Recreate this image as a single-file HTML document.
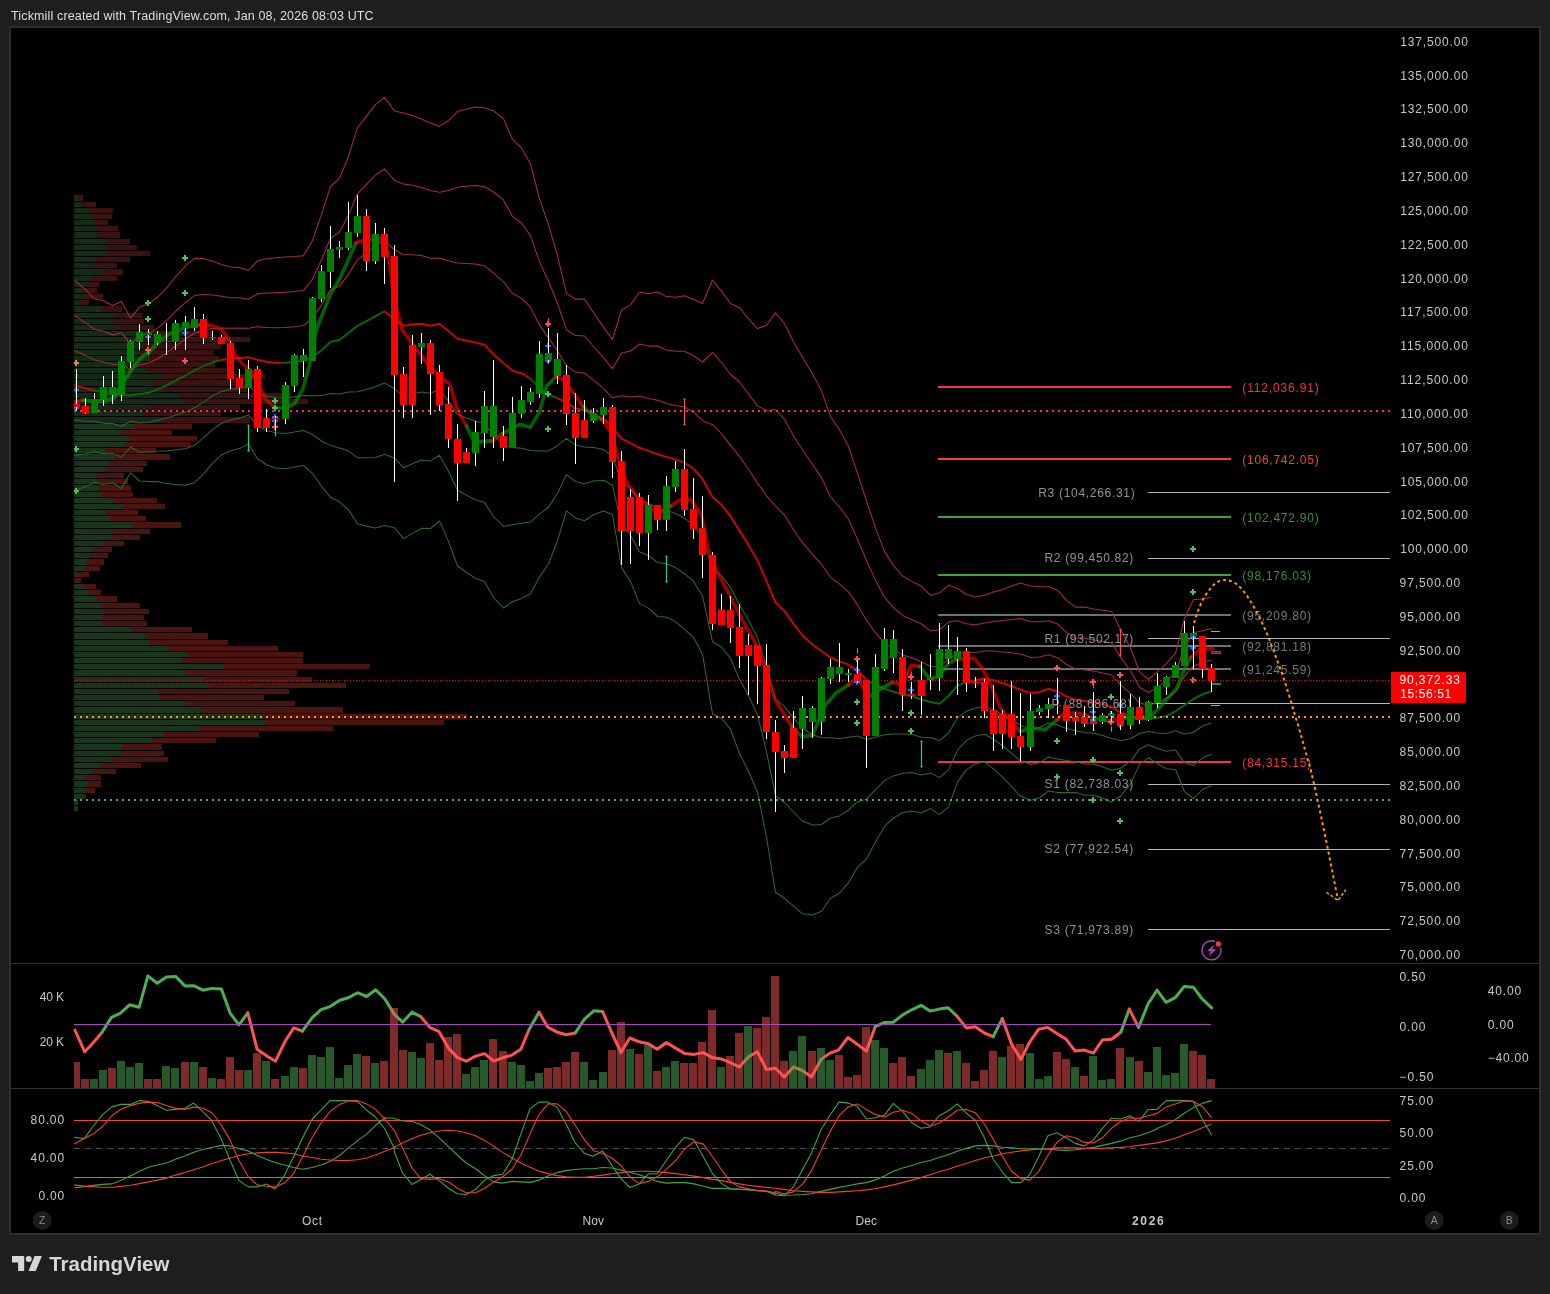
<!DOCTYPE html>
<html lang="en"><head><meta charset="utf-8"><title>Tickmill chart - TradingView</title>
<style>
html,body{margin:0;padding:0;background:#1e1e1e;}
body{width:1550px;height:1294px;position:relative;overflow:hidden;font-family:'Liberation Sans', Arial, sans-serif;}
#hdr{position:absolute;left:10.5px;top:9px;font-size:12.5px;line-height:14px;color:#dedede;white-space:nowrap;letter-spacing:0.15px;will-change:transform;}
#box{position:absolute;left:9px;top:26px;width:1528px;height:1205px;border:2px solid #2e2e2e;background:#000;}
#chart{position:absolute;left:0;top:0;}
#logo{position:absolute;left:0;top:1245px;}
svg text{font-family:'Liberation Sans', Arial, sans-serif;}
</style></head><body>
<div id="hdr">Tickmill created with TradingView.com, Jan 08, 2026 08:03 UTC</div>
<div id="box"></div>
<svg id="chart" style="will-change:transform" width="1550" height="1294" viewBox="0 0 1550 1294">
<defs><clipPath id="plot"><rect x="74" y="28" width="1316" height="935"/></clipPath></defs>
<g shape-rendering="crispEdges">
<rect x="74" y="195" width="3" height="6" fill="#142b17"/>
<rect x="77" y="195" width="6" height="6" fill="#3b1210"/>
<rect x="74" y="202" width="8" height="5" fill="#142b17"/>
<rect x="82" y="202" width="14" height="5" fill="#3b1210"/>
<rect x="74" y="208" width="15" height="5" fill="#142b17"/>
<rect x="89" y="208" width="24" height="5" fill="#3b1210"/>
<rect x="74" y="214" width="20" height="5" fill="#142b17"/>
<rect x="94" y="214" width="18" height="5" fill="#3b1210"/>
<rect x="74" y="220" width="21" height="5" fill="#142b17"/>
<rect x="95" y="220" width="13" height="5" fill="#3b1210"/>
<rect x="74" y="226" width="22" height="5" fill="#142b17"/>
<rect x="96" y="226" width="22" height="5" fill="#3b1210"/>
<rect x="74" y="232" width="23" height="6" fill="#142b17"/>
<rect x="97" y="232" width="23" height="6" fill="#3b1210"/>
<rect x="74" y="239" width="32" height="5" fill="#142b17"/>
<rect x="106" y="239" width="24" height="5" fill="#3b1210"/>
<rect x="74" y="245" width="31" height="5" fill="#142b17"/>
<rect x="105" y="245" width="32" height="5" fill="#3b1210"/>
<rect x="74" y="251" width="33" height="5" fill="#142b17"/>
<rect x="107" y="251" width="43" height="5" fill="#3b1210"/>
<rect x="74" y="257" width="21" height="5" fill="#142b17"/>
<rect x="95" y="257" width="35" height="5" fill="#3b1210"/>
<rect x="74" y="263" width="20" height="5" fill="#142b17"/>
<rect x="94" y="263" width="23" height="5" fill="#3b1210"/>
<rect x="74" y="269" width="29" height="6" fill="#142b17"/>
<rect x="103" y="269" width="20" height="6" fill="#3b1210"/>
<rect x="74" y="276" width="18" height="5" fill="#142b17"/>
<rect x="92" y="276" width="25" height="5" fill="#3b1210"/>
<rect x="74" y="282" width="14" height="5" fill="#142b17"/>
<rect x="88" y="282" width="11" height="5" fill="#3b1210"/>
<rect x="74" y="288" width="8" height="5" fill="#142b17"/>
<rect x="82" y="288" width="15" height="5" fill="#3b1210"/>
<rect x="74" y="294" width="12" height="5" fill="#142b17"/>
<rect x="86" y="294" width="17" height="5" fill="#3b1210"/>
<rect x="74" y="300" width="6" height="5" fill="#142b17"/>
<rect x="80" y="300" width="9" height="5" fill="#3b1210"/>
<rect x="74" y="306" width="27" height="6" fill="#142b17"/>
<rect x="101" y="306" width="21" height="6" fill="#3b1210"/>
<rect x="74" y="313" width="40" height="5" fill="#142b17"/>
<rect x="114" y="313" width="29" height="5" fill="#3b1210"/>
<rect x="74" y="319" width="38" height="5" fill="#142b17"/>
<rect x="112" y="319" width="32" height="5" fill="#3b1210"/>
<rect x="74" y="325" width="39" height="5" fill="#142b17"/>
<rect x="113" y="325" width="41" height="5" fill="#3b1210"/>
<rect x="74" y="331" width="73" height="5" fill="#142b17"/>
<rect x="147" y="331" width="65" height="5" fill="#3b1210"/>
<rect x="74" y="337" width="70" height="5" fill="#142b17"/>
<rect x="144" y="337" width="106" height="5" fill="#3b1210"/>
<rect x="74" y="343" width="70" height="6" fill="#142b17"/>
<rect x="144" y="343" width="77" height="6" fill="#3b1210"/>
<rect x="74" y="350" width="65" height="5" fill="#142b17"/>
<rect x="139" y="350" width="75" height="5" fill="#3b1210"/>
<rect x="74" y="356" width="75" height="5" fill="#142b17"/>
<rect x="149" y="356" width="70" height="5" fill="#3b1210"/>
<rect x="74" y="362" width="65" height="5" fill="#142b17"/>
<rect x="139" y="362" width="76" height="5" fill="#3b1210"/>
<rect x="74" y="368" width="74" height="5" fill="#142b17"/>
<rect x="148" y="368" width="78" height="5" fill="#3b1210"/>
<rect x="74" y="374" width="88" height="5" fill="#142b17"/>
<rect x="162" y="374" width="103" height="5" fill="#3b1210"/>
<rect x="74" y="380" width="79" height="6" fill="#142b17"/>
<rect x="153" y="380" width="90" height="6" fill="#3b1210"/>
<rect x="74" y="387" width="78" height="5" fill="#142b17"/>
<rect x="152" y="387" width="95" height="5" fill="#3b1210"/>
<rect x="74" y="393" width="105" height="5" fill="#142b17"/>
<rect x="179" y="393" width="112" height="5" fill="#3b1210"/>
<rect x="74" y="399" width="110" height="5" fill="#142b17"/>
<rect x="184" y="399" width="124" height="5" fill="#3b1210"/>
<rect x="74" y="405" width="73" height="5" fill="#142b17"/>
<rect x="147" y="405" width="93" height="5" fill="#3b1210"/>
<rect x="74" y="411" width="69" height="5" fill="#142b17"/>
<rect x="143" y="411" width="78" height="5" fill="#3b1210"/>
<rect x="74" y="417" width="88" height="6" fill="#142b17"/>
<rect x="162" y="417" width="88" height="6" fill="#3b1210"/>
<rect x="74" y="424" width="60" height="5" fill="#19361c"/>
<rect x="134" y="424" width="58" height="5" fill="#4c1411"/>
<rect x="74" y="430" width="45" height="5" fill="#19361c"/>
<rect x="119" y="430" width="53" height="5" fill="#4c1411"/>
<rect x="74" y="436" width="55" height="5" fill="#19361c"/>
<rect x="129" y="436" width="68" height="5" fill="#4c1411"/>
<rect x="74" y="442" width="51" height="5" fill="#19361c"/>
<rect x="125" y="442" width="66" height="5" fill="#4c1411"/>
<rect x="74" y="448" width="32" height="5" fill="#19361c"/>
<rect x="106" y="448" width="50" height="5" fill="#4c1411"/>
<rect x="74" y="454" width="40" height="6" fill="#19361c"/>
<rect x="114" y="454" width="56" height="6" fill="#4c1411"/>
<rect x="74" y="461" width="35" height="5" fill="#19361c"/>
<rect x="109" y="461" width="38" height="5" fill="#4c1411"/>
<rect x="74" y="467" width="31" height="5" fill="#19361c"/>
<rect x="105" y="467" width="38" height="5" fill="#4c1411"/>
<rect x="74" y="473" width="22" height="5" fill="#19361c"/>
<rect x="96" y="473" width="28" height="5" fill="#4c1411"/>
<rect x="74" y="479" width="25" height="5" fill="#19361c"/>
<rect x="99" y="479" width="29" height="5" fill="#4c1411"/>
<rect x="74" y="485" width="25" height="6" fill="#19361c"/>
<rect x="99" y="485" width="32" height="6" fill="#4c1411"/>
<rect x="74" y="492" width="28" height="5" fill="#19361c"/>
<rect x="102" y="492" width="31" height="5" fill="#4c1411"/>
<rect x="74" y="498" width="39" height="5" fill="#19361c"/>
<rect x="113" y="498" width="44" height="5" fill="#4c1411"/>
<rect x="74" y="504" width="49" height="5" fill="#19361c"/>
<rect x="123" y="504" width="42" height="5" fill="#4c1411"/>
<rect x="74" y="510" width="31" height="5" fill="#19361c"/>
<rect x="105" y="510" width="33" height="5" fill="#4c1411"/>
<rect x="74" y="516" width="36" height="5" fill="#19361c"/>
<rect x="110" y="516" width="36" height="5" fill="#4c1411"/>
<rect x="74" y="522" width="59" height="6" fill="#19361c"/>
<rect x="133" y="522" width="48" height="6" fill="#4c1411"/>
<rect x="74" y="529" width="37" height="5" fill="#19361c"/>
<rect x="111" y="529" width="39" height="5" fill="#4c1411"/>
<rect x="74" y="535" width="38" height="5" fill="#19361c"/>
<rect x="112" y="535" width="28" height="5" fill="#4c1411"/>
<rect x="74" y="541" width="28" height="5" fill="#19361c"/>
<rect x="102" y="541" width="22" height="5" fill="#4c1411"/>
<rect x="74" y="547" width="19" height="5" fill="#19361c"/>
<rect x="93" y="547" width="19" height="5" fill="#4c1411"/>
<rect x="74" y="553" width="15" height="5" fill="#19361c"/>
<rect x="89" y="553" width="19" height="5" fill="#4c1411"/>
<rect x="74" y="559" width="13" height="6" fill="#19361c"/>
<rect x="87" y="559" width="17" height="6" fill="#4c1411"/>
<rect x="74" y="566" width="11" height="5" fill="#19361c"/>
<rect x="85" y="566" width="15" height="5" fill="#4c1411"/>
<rect x="74" y="572" width="3" height="5" fill="#19361c"/>
<rect x="77" y="572" width="12" height="5" fill="#4c1411"/>
<rect x="74" y="578" width="0" height="5" fill="#19361c"/>
<rect x="74" y="578" width="7" height="5" fill="#4c1411"/>
<rect x="74" y="584" width="10" height="5" fill="#19361c"/>
<rect x="84" y="584" width="12" height="5" fill="#4c1411"/>
<rect x="74" y="590" width="15" height="5" fill="#19361c"/>
<rect x="89" y="590" width="12" height="5" fill="#4c1411"/>
<rect x="74" y="596" width="23" height="6" fill="#19361c"/>
<rect x="97" y="596" width="20" height="6" fill="#4c1411"/>
<rect x="74" y="603" width="27" height="5" fill="#19361c"/>
<rect x="101" y="603" width="39" height="5" fill="#4c1411"/>
<rect x="74" y="609" width="29" height="5" fill="#19361c"/>
<rect x="103" y="609" width="46" height="5" fill="#4c1411"/>
<rect x="74" y="615" width="28" height="5" fill="#19361c"/>
<rect x="102" y="615" width="42" height="5" fill="#4c1411"/>
<rect x="74" y="621" width="27" height="5" fill="#19361c"/>
<rect x="101" y="621" width="46" height="5" fill="#4c1411"/>
<rect x="74" y="627" width="57" height="5" fill="#19361c"/>
<rect x="131" y="627" width="61" height="5" fill="#4c1411"/>
<rect x="74" y="633" width="71" height="6" fill="#19361c"/>
<rect x="145" y="633" width="63" height="6" fill="#4c1411"/>
<rect x="74" y="640" width="76" height="5" fill="#19361c"/>
<rect x="150" y="640" width="78" height="5" fill="#4c1411"/>
<rect x="74" y="646" width="93" height="5" fill="#19361c"/>
<rect x="167" y="646" width="111" height="5" fill="#4c1411"/>
<rect x="74" y="652" width="114" height="5" fill="#19361c"/>
<rect x="188" y="652" width="115" height="5" fill="#4c1411"/>
<rect x="74" y="658" width="108" height="5" fill="#19361c"/>
<rect x="182" y="658" width="121" height="5" fill="#4c1411"/>
<rect x="74" y="664" width="150" height="5" fill="#19361c"/>
<rect x="224" y="664" width="146" height="5" fill="#4c1411"/>
<rect x="74" y="670" width="112" height="6" fill="#19361c"/>
<rect x="186" y="670" width="111" height="6" fill="#4c1411"/>
<rect x="74" y="677" width="130" height="5" fill="#19361c"/>
<rect x="204" y="677" width="108" height="5" fill="#4c1411"/>
<rect x="74" y="683" width="134" height="5" fill="#19361c"/>
<rect x="208" y="683" width="138" height="5" fill="#4c1411"/>
<rect x="74" y="689" width="84" height="5" fill="#19361c"/>
<rect x="158" y="689" width="131" height="5" fill="#4c1411"/>
<rect x="74" y="695" width="85" height="5" fill="#19361c"/>
<rect x="159" y="695" width="105" height="5" fill="#4c1411"/>
<rect x="74" y="701" width="111" height="5" fill="#19361c"/>
<rect x="185" y="701" width="110" height="5" fill="#4c1411"/>
<rect x="74" y="707" width="127" height="6" fill="#19361c"/>
<rect x="201" y="707" width="142" height="6" fill="#4c1411"/>
<rect x="74" y="714" width="190" height="5" fill="#19361c"/>
<rect x="264" y="714" width="203" height="5" fill="#4c1411"/>
<rect x="74" y="720" width="191" height="5" fill="#19361c"/>
<rect x="265" y="720" width="179" height="5" fill="#4c1411"/>
<rect x="74" y="726" width="126" height="5" fill="#19361c"/>
<rect x="200" y="726" width="133" height="5" fill="#4c1411"/>
<rect x="74" y="732" width="90" height="5" fill="#19361c"/>
<rect x="164" y="732" width="95" height="5" fill="#4c1411"/>
<rect x="74" y="738" width="78" height="5" fill="#19361c"/>
<rect x="152" y="738" width="64" height="5" fill="#4c1411"/>
<rect x="74" y="744" width="48" height="6" fill="#19361c"/>
<rect x="122" y="744" width="40" height="6" fill="#4c1411"/>
<rect x="74" y="751" width="47" height="5" fill="#19361c"/>
<rect x="121" y="751" width="43" height="5" fill="#4c1411"/>
<rect x="74" y="757" width="38" height="5" fill="#19361c"/>
<rect x="112" y="757" width="56" height="5" fill="#4c1411"/>
<rect x="74" y="763" width="27" height="5" fill="#19361c"/>
<rect x="101" y="763" width="40" height="5" fill="#4c1411"/>
<rect x="74" y="769" width="19" height="5" fill="#19361c"/>
<rect x="93" y="769" width="23" height="5" fill="#4c1411"/>
<rect x="74" y="775" width="11" height="5" fill="#19361c"/>
<rect x="85" y="775" width="16" height="5" fill="#4c1411"/>
<rect x="74" y="781" width="14" height="6" fill="#19361c"/>
<rect x="88" y="781" width="13" height="6" fill="#4c1411"/>
<rect x="74" y="788" width="12" height="5" fill="#19361c"/>
<rect x="86" y="788" width="9" height="5" fill="#4c1411"/>
<rect x="74" y="794" width="9" height="5" fill="#19361c"/>
<rect x="83" y="794" width="3" height="5" fill="#4c1411"/>
<rect x="74" y="800" width="4" height="5" fill="#19361c"/>
<rect x="74" y="806" width="4" height="5" fill="#19361c"/>
</g>
<g shape-rendering="crispEdges">
<rect x="938" y="386" width="293" height="2" fill="#f23645"/>
<rect x="938" y="458" width="293" height="2" fill="#f44336"/>
<rect x="938" y="516" width="293" height="2" fill="#43a047"/>
<rect x="938" y="574" width="293" height="2" fill="#43a047"/>
<rect x="938" y="614" width="293" height="2" fill="#6f7178"/>
<rect x="938" y="645" width="293" height="2" fill="#6f7178"/>
<rect x="938" y="668" width="293" height="2" fill="#6f7178"/>
<rect x="938" y="761" width="293" height="2" fill="#f23645"/>
<rect x="1148" y="492" width="242" height="1" fill="#b2b5be"/>
<rect x="1148" y="558" width="242" height="1" fill="#b2b5be"/>
<rect x="1148" y="638" width="242" height="1" fill="#b2b5be"/>
<rect x="1148" y="703" width="242" height="1" fill="#b2b5be"/>
<rect x="1148" y="784" width="242" height="1" fill="#b2b5be"/>
<rect x="1148" y="849" width="242" height="1" fill="#b2b5be"/>
<rect x="1148" y="929" width="242" height="1" fill="#b2b5be"/>
</g>
<g fill="none" stroke-linejoin="round" stroke-linecap="butt" clip-path="url(#plot)">
<polyline points="74,279.9 76.5,282 85.5,289.7 94.5,299 103.5,300.7 112.5,305.5 121.5,301.6 130.5,318.1 139.5,307.2 148.5,303.8 157.5,297.3 166.5,288 175.5,276.9 185.5,265.9 194.5,258.2 203.5,258.6 212.5,261.3 221.5,264.5 230.5,267.1 239.5,267.6 248.5,270.5 257.5,260.8 266.5,258.7 275.5,257.7 285.5,256.9 294.5,256.5 303.5,255.7 312.5,240.3 321.5,214.4 330.5,186.5 339.5,178.2 348.5,156.2 357.5,127.7 366.5,116.1 375.5,104.4 384.5,97.4 394.5,110.9 403.5,113 412.5,115.6 421.5,119.2 430.5,123.1 439.5,126.4 448.5,120.5 457.5,111.4 466.5,109.1 475.5,107 484.5,107.8 493.5,110.9 503.5,118.7 512.5,139.4 521.5,147.9 530.5,164 539.5,198.9 548.5,224.8 557.5,255.9 566.5,293.4 575.5,299.1 584.5,299.1 593.5,312.8 603.5,327.1 612.5,339.5 621.5,310 630.5,304.9 639.5,292 648.5,293.7 657.5,292 666.5,296.6 675.5,297.2 684.5,295.7 693.5,299.5 702.5,303.5 712.5,280 721.5,291.4 730.5,303.5 739.5,307.7 748.5,318.6 757.5,328.6 766.5,325.2 775.5,312.9 784.5,323.5 793.5,341.7 802.5,357.2 812.5,374 821.5,390.8 830.5,416.7 839.5,429.7 848.5,446.5 857.5,473.7 866.5,500.9 875.5,528.1 884.5,551.4 893.5,565.6 902.5,576 911.5,581.1 921.5,586.3 930.5,595.4 939.5,592.8 948.5,585.1 957.5,588.5 966.5,594.5 975.5,597 984.5,595.3 993.5,591.9 1002.5,589.4 1011.5,586 1020.5,583.1 1030.5,586 1039.5,586.5 1048.5,586.8 1057.5,590.2 1066.5,600.4 1075.5,607.2 1084.5,606.9 1093.5,608.9 1102.5,610.3 1111.5,611.5 1120.5,629.3 1130.5,648 1139.5,671.8 1148.5,679.5 1157.5,671.8 1166.5,663.3 1175.5,653.1 1184.5,618.3 1193.5,599.6 1202.5,599 1211.5,597" stroke="#a82b3c" stroke-width="1.05"/>
<polyline points="74,315 76.5,316.6 85.5,322.6 94.5,329.6 103.5,331.3 112.5,335 121.5,332.8 130.5,343.9 139.5,336.2 148.5,333.4 157.5,328.1 166.5,320.6 175.5,311.5 185.5,302.4 194.5,295.6 203.5,294.4 212.5,295 221.5,296.3 230.5,297.7 239.5,297.7 248.5,299.4 257.5,293.8 266.5,293.1 275.5,292.7 285.5,292.2 294.5,291.6 303.5,290.6 312.5,279.2 321.5,259.8 330.5,238.3 339.5,232.1 348.5,215.1 357.5,193.7 366.5,184.4 375.5,175 384.5,168.8 394.5,180.4 403.5,183.9 412.5,185.2 421.5,187.4 430.5,190.6 439.5,192.2 448.5,190.6 457.5,187.2 466.5,186.3 475.5,185.5 484.5,186.7 493.5,192 503.5,200.2 512.5,216.4 521.5,223 530.5,235.6 539.5,261.9 548.5,281.3 557.5,303.3 566.5,329.7 575.5,335.6 584.5,336 593.5,346.5 603.5,357.7 612.5,368.7 621.5,352.9 630.5,351 639.5,343.9 648.5,346.1 657.5,346.1 666.5,350 675.5,351.3 684.5,351.3 693.5,355.8 702.5,362 712.5,352.3 721.5,362.5 730.5,374.5 739.5,382 748.5,394 757.5,405.9 766.5,410.5 775.5,409.5 784.5,419.3 793.5,435.7 802.5,450 812.5,464.2 821.5,477.6 830.5,497 839.5,506.9 848.5,519.2 857.5,539.3 866.5,560.5 875.5,580.4 884.5,597.2 893.5,607.7 902.5,615.4 911.5,619.4 921.5,624 930.5,630.9 939.5,629.8 948.5,622.1 957.5,620.8 966.5,623.7 975.5,624.8 984.5,623.1 993.5,621.4 1002.5,620.6 1011.5,619.4 1020.5,618.6 1030.5,621.7 1039.5,621.7 1048.5,620.8 1057.5,623.9 1066.5,632.4 1075.5,638.1 1084.5,638.3 1093.5,640 1102.5,641.6 1111.5,643.2 1120.5,657.1 1130.5,670.7 1139.5,687.3 1148.5,692.5 1157.5,687.1 1166.5,680.9 1175.5,672.5 1184.5,647.2 1193.5,632.7 1202.5,630.8 1211.5,628.5" stroke="#a82b3c" stroke-width="1.05"/>
<polyline points="74,350 76.5,351.2 85.5,355.4 94.5,360.1 103.5,362 112.5,364.6 121.5,363.9 130.5,369.7 139.5,365.1 148.5,363.1 157.5,358.8 166.5,353.2 175.5,346.1 185.5,339 194.5,333 203.5,330.3 212.5,328.6 221.5,328 230.5,328.3 239.5,327.9 248.5,328.3 257.5,326.7 266.5,327.4 275.5,327.8 285.5,327.5 294.5,326.7 303.5,325.6 312.5,318 321.5,305.1 330.5,290 339.5,286.1 348.5,274.1 357.5,259.8 366.5,252.8 375.5,245.6 384.5,240.2 394.5,249.8 403.5,254.8 412.5,254.8 421.5,255.5 430.5,258.2 439.5,257.9 448.5,260.8 457.5,263 466.5,263.6 475.5,264.1 484.5,265.7 493.5,273.1 503.5,281.8 512.5,293.5 521.5,298.1 530.5,307.2 539.5,324.9 548.5,337.9 557.5,350.8 566.5,365.9 575.5,372.1 584.5,373 593.5,380.1 603.5,388.3 612.5,397.8 621.5,395.8 630.5,397.1 639.5,395.9 648.5,398.5 657.5,400.2 666.5,403.4 675.5,405.4 684.5,406.9 693.5,412.2 702.5,420.4 712.5,424.7 721.5,433.6 730.5,445.4 739.5,456.3 748.5,469.5 757.5,483.1 766.5,495.8 775.5,506 784.5,515.1 793.5,529.8 802.5,542.7 812.5,554.4 821.5,564.3 830.5,577.2 839.5,584.2 848.5,591.9 857.5,604.9 866.5,620.2 875.5,632.7 884.5,643.1 893.5,649.7 902.5,654.9 911.5,657.7 921.5,661.8 930.5,666.5 939.5,666.7 948.5,659 957.5,653.1 966.5,652.8 975.5,652.6 984.5,650.9 993.5,650.9 1002.5,651.9 1011.5,652.8 1020.5,654.1 1030.5,657.4 1039.5,657 1048.5,654.8 1057.5,657.7 1066.5,664.5 1075.5,669 1084.5,669.7 1093.5,671 1102.5,672.9 1111.5,675 1120.5,684.9 1130.5,693.4 1139.5,702.7 1148.5,705.6 1157.5,702.4 1166.5,698.5 1175.5,691.9 1184.5,676.1 1193.5,665.9 1202.5,662.5 1211.5,659.9" stroke="#a82b3c" stroke-width="1.05"/>
<polyline points="74,420.1 76.5,420.3 85.5,421.2 94.5,421.2 103.5,423.2 112.5,423.6 121.5,426.3 130.5,421.2 139.5,423 148.5,422.4 157.5,420.2 166.5,418.3 175.5,415.2 185.5,412.1 194.5,407.8 203.5,402.1 212.5,395.9 221.5,391.5 230.5,389.5 239.5,388.2 248.5,386.1 257.5,392.7 266.5,396.1 275.5,397.8 285.5,398.1 294.5,396.8 303.5,395.5 312.5,395.7 321.5,395.7 330.5,393.6 339.5,394 348.5,392 357.5,391.8 366.5,389.5 375.5,386.8 384.5,382.9 394.5,388.8 403.5,396.7 412.5,394.1 421.5,391.9 430.5,393.3 439.5,389.5 448.5,401.1 457.5,414.5 466.5,418 475.5,421.1 484.5,423.6 493.5,435.4 503.5,444.9 512.5,447.6 521.5,448.2 530.5,450.5 539.5,450.9 548.5,450.9 557.5,445.7 566.5,438.4 575.5,445.1 584.5,446.9 593.5,447.5 603.5,449.6 612.5,456.2 621.5,481.7 630.5,489.2 639.5,499.7 648.5,503.3 657.5,508.4 666.5,510.3 675.5,513.5 684.5,518.2 693.5,524.8 702.5,537.3 712.5,569.3 721.5,575.9 730.5,587.4 739.5,605 748.5,620.3 757.5,637.7 766.5,666.4 775.5,699.2 784.5,706.7 793.5,717.9 802.5,728.3 812.5,734.7 821.5,737.8 830.5,737.8 839.5,738.6 848.5,737.3 857.5,736.1 866.5,739.6 875.5,737.3 884.5,734.7 893.5,733.9 902.5,733.9 911.5,734.3 921.5,737.2 930.5,737.5 939.5,740.7 948.5,733 957.5,717.8 966.5,711.2 975.5,708.1 984.5,706.4 993.5,709.8 1002.5,714.5 1011.5,719.7 1020.5,725.2 1030.5,728.8 1039.5,727.5 1048.5,722.9 1057.5,725.1 1066.5,728.5 1075.5,730.8 1084.5,732.5 1093.5,733.2 1102.5,735.4 1111.5,738.4 1120.5,740.4 1130.5,738.7 1139.5,733.5 1148.5,731.6 1157.5,733.1 1166.5,733.6 1175.5,730.7 1184.5,733.9 1193.5,732.2 1202.5,726 1211.5,722.9" stroke="#2c6834" stroke-width="1.05"/>
<polyline points="74,455.1 76.5,454.9 85.5,454 94.5,451.8 103.5,453.8 112.5,453.1 121.5,457.4 130.5,447 139.5,452 148.5,452 157.5,450.9 166.5,450.9 175.5,449.8 185.5,448.7 194.5,445.2 203.5,437.9 212.5,429.6 221.5,423.2 230.5,420.1 239.5,418.3 248.5,415 257.5,425.7 266.5,430.5 275.5,432.8 285.5,433.4 294.5,431.9 303.5,430.5 312.5,434.5 321.5,441 330.5,445.4 339.5,447.9 348.5,450.9 357.5,457.8 366.5,457.8 375.5,457.4 384.5,454.3 394.5,458.2 403.5,467.7 412.5,463.8 421.5,460.1 430.5,460.9 439.5,455.2 448.5,471.3 457.5,490.3 466.5,495.3 475.5,499.7 484.5,502.6 493.5,516.5 503.5,526.4 512.5,524.7 521.5,523.3 530.5,522.1 539.5,513.9 548.5,507.4 557.5,493.2 566.5,474.6 575.5,481.6 584.5,483.8 593.5,481.1 603.5,480.3 612.5,485.3 621.5,524.6 630.5,535.3 639.5,551.7 648.5,555.7 657.5,562.5 666.5,563.7 675.5,567.6 684.5,573.8 693.5,581.2 702.5,595.8 712.5,641.7 721.5,647 730.5,658.3 739.5,679.3 748.5,695.7 757.5,715 766.5,751.8 775.5,795.8 784.5,802.5 793.5,812 802.5,821 812.5,824.9 821.5,824.5 830.5,818 839.5,815.9 848.5,810 857.5,801.7 866.5,799.3 875.5,789.6 884.5,780.6 893.5,775.9 902.5,773.4 911.5,772.6 921.5,775 930.5,773.1 939.5,777.6 948.5,769.9 957.5,750.1 966.5,740.4 975.5,735.9 984.5,734.2 993.5,739.3 1002.5,745.8 1011.5,753.2 1020.5,760.8 1030.5,764.5 1039.5,762.8 1048.5,756.9 1057.5,758.9 1066.5,760.6 1075.5,761.7 1084.5,763.9 1093.5,764.2 1102.5,766.7 1111.5,770.2 1120.5,768.2 1130.5,761.4 1139.5,748.9 1148.5,744.7 1157.5,748.4 1166.5,751.2 1175.5,750.1 1184.5,762.8 1193.5,765.4 1202.5,757.8 1211.5,754.3" stroke="#2c6834" stroke-width="1.05"/>
<polyline points="74,490.2 76.5,489.5 85.5,486.9 94.5,482.3 103.5,484.4 112.5,482.7 121.5,488.6 130.5,472.8 139.5,481 148.5,481.6 157.5,481.6 166.5,483.5 175.5,484.4 185.5,485.2 194.5,482.7 203.5,473.8 212.5,463.3 221.5,454.9 230.5,450.7 239.5,448.5 248.5,443.9 257.5,458.7 266.5,464.8 275.5,467.9 285.5,468.7 294.5,467 303.5,465.5 312.5,473.3 321.5,486.3 330.5,497.2 339.5,501.8 348.5,509.9 357.5,523.8 366.5,526.2 375.5,528 384.5,525.6 394.5,527.7 403.5,538.6 412.5,533.4 421.5,528.2 430.5,528.5 439.5,521 448.5,541.4 457.5,566 466.5,572.5 475.5,578.2 484.5,581.6 493.5,597.6 503.5,608 512.5,601.8 521.5,598.4 530.5,593.7 539.5,576.9 548.5,564 557.5,540.7 566.5,510.9 575.5,518.1 584.5,520.7 593.5,514.8 603.5,510.9 612.5,514.5 621.5,567.5 630.5,581.4 639.5,603.6 648.5,608.1 657.5,616.5 666.5,617.1 675.5,621.7 684.5,629.4 693.5,637.5 702.5,654.2 712.5,714 721.5,718.1 730.5,729.3 739.5,753.6 748.5,771.2 757.5,792.2 766.5,837.1 775.5,892.3 784.5,898.3 793.5,906.1 802.5,913.8 812.5,915.1 821.5,911.2 830.5,898.3 839.5,893.1 848.5,882.7 857.5,867.3 866.5,858.9 875.5,841.9 884.5,826.4 893.5,818 902.5,812.8 911.5,810.9 921.5,812.7 930.5,808.6 939.5,814.6 948.5,806.9 957.5,782.4 966.5,769.6 975.5,763.7 984.5,762 993.5,768.8 1002.5,777.1 1011.5,786.6 1020.5,796.3 1030.5,800.2 1039.5,798 1048.5,790.9 1057.5,792.6 1066.5,792.6 1075.5,792.6 1084.5,795.3 1093.5,795.3 1102.5,798 1111.5,801.9 1120.5,796 1130.5,784.1 1139.5,764.4 1148.5,757.7 1157.5,763.7 1166.5,768.8 1175.5,769.5 1184.5,791.7 1193.5,798.5 1202.5,789.5 1211.5,785.8" stroke="#2c6834" stroke-width="1.05"/>
<polyline points="74,385 76.5,385.7 85.5,388.3 93.5,390.4" stroke="#c40808" stroke-width="2"/>
<polyline points="93.5,390.4 94.5,390.7 103.5,392.6 105.5,392.9" stroke="#0a650a" stroke-width="2"/>
<polyline points="105.5,392.9 110.5,393.7" stroke="#c40808" stroke-width="2"/>
<polyline points="110.5,393.7 112.5,394.1 121.5,395.1 130.5,395.4 139.5,394.1 148.5,392.7 157.5,389.5 166.5,385.7 175.5,380.6 185.5,375.5 194.5,370.4 203.5,366.2 212.5,362.3 219.7,360.2" stroke="#0a650a" stroke-width="2"/>
<polyline points="219.7,360.2 221.5,359.7 230.5,358.9 239.5,358 248.5,357.2 257.5,359.7 266.5,361.8 275.5,362.8 283.5,362.8" stroke="#c40808" stroke-width="2"/>
<polyline points="283.5,362.8 285.5,362.8 294.5,361.8 303.5,360.6 312.5,356.8 321.5,350.4 330.5,341.8 339.5,340 348.5,333 357.5,325.8 366.5,321.1 375.5,316.2 384.1,311.7" stroke="#0a650a" stroke-width="2"/>
<polyline points="384.1,311.7 384.5,311.5 394.5,319.3 403.5,325.8 412.5,324.5 421.5,323.7 430.5,325.8 439.5,323.7 448.5,331 457.5,338.7 466.5,340.8 475.5,342.6 484.5,344.7 493.5,354.3 503.5,363.3 512.5,370.6 521.5,373.2 529.5,378.2" stroke="#c40808" stroke-width="2"/>
<polyline points="529.5,378.2 530.5,378.9 539.5,387.9 548.5,394.4 556.7,397.9" stroke="#0a650a" stroke-width="2"/>
<polyline points="556.7,397.9 557.5,398.3 566.5,402.2 575.5,408.6 584.5,409.9 593.5,413.8 603.5,419 612.5,427 621.5,438.7 630.5,443.1 639.5,447.8 648.5,450.9 657.5,454.3 666.5,456.9 675.5,459.4 684.5,462.6 693.5,468.5 702.5,478.9 712.5,497 721.5,504.8 730.5,516.4 739.5,530.6 748.5,544.9 757.5,560.4 766.5,581.1 775.5,602.6 784.5,610.9 793.5,623.9 802.5,635.5 812.5,644.6 821.5,651 830.5,657.5 839.5,661.4 848.5,664.6 857.5,670.5 866.5,679.9 866.9,680.1" stroke="#c40808" stroke-width="2"/>
<polyline points="866.9,680.1 875.5,685 884.5,688.9 893.5,691.8 902.5,694.4 911.5,696 921.5,699.5 930.5,702 939.5,703.7 948.5,696 957.5,685.4 966.4,682.1" stroke="#0a650a" stroke-width="2"/>
<polyline points="966.4,682.1 966.5,682 975.5,680.3 984.5,678.6 993.5,680.3 1002.5,683.2 1011.5,686.3 1020.5,689.7 1030.5,693.1 1039.5,692.2 1048.5,688.8 1057.5,691.4 1066.5,696.5 1075.5,699.9 1084.5,701.1 1093.5,702.1 1102.5,704.1 1111.5,706.7 1120.5,712.7 1130.5,716.1 1139.5,718.1 1144,718.4" stroke="#c40808" stroke-width="2"/>
<polyline points="1144,718.4 1148.5,718.6 1157.5,717.8 1166.5,716.1 1175.5,711.3 1184.5,705 1193.5,699 1202.5,694.3 1211.5,691.4" stroke="#0a650a" stroke-width="2"/>
<polyline points="74,402.5 82.9,400.1" stroke="#ff0000" stroke-width="3.6" stroke-opacity="0.62" stroke-linecap="round"/>
<polyline points="82.9,400.1 91.7,400.9 106.1,400.9 114.4,397.8 117.5,391.1 125.5,379.3 134.5,365.3 142.3,356.5 150,351.5 158.4,341.5 168.6,334.4 178.8,330 189,326.6 199.3,324.9" stroke="#00a000" stroke-width="3.6" stroke-opacity="0.62" stroke-linecap="round"/>
<polyline points="199.3,324.9 211.2,325.4 221.4,329.1 229.9,341 235.8,356.3 241.8,363.1 250.3,369.9 258.8,385.2 265.6,398.8 274.1,407.3" stroke="#ff0000" stroke-width="3.6" stroke-opacity="0.62" stroke-linecap="round"/>
<polyline points="274.1,407.3 284.3,408.2 294.5,403.9 303,388.6 309.8,364 316.6,329 330.5,293.8 339,280.2 356,242.8" stroke="#00a000" stroke-width="3.6" stroke-opacity="0.62" stroke-linecap="round"/>
<polyline points="356,242.8 363.7,240.3 379.8,237.7 388.3,253 393.4,295.5 401.9,329.6 412.1,343.2 430.9,368.7 449.6,384.2 458.1,411.6 466.6,426.1" stroke="#ff0000" stroke-width="3.6" stroke-opacity="0.62" stroke-linecap="round"/>
<polyline points="466.6,426.1 472.5,438.8 478.5,441.4 492.1,440.9" stroke="#00a000" stroke-width="3.6" stroke-opacity="0.62" stroke-linecap="round"/>
<polyline points="492.1,440.9 502.3,433.7" stroke="#ff0000" stroke-width="3.6" stroke-opacity="0.62" stroke-linecap="round"/>
<polyline points="502.3,433.7 520.1,424.4 530.3,427.3 539.7,411.6 546.5,386.1 555.9,376.8" stroke="#00a000" stroke-width="3.6" stroke-opacity="0.62" stroke-linecap="round"/>
<polyline points="555.9,376.8 565.2,380.2 573.7,393.8 583.1,406.6" stroke="#ff0000" stroke-width="3.6" stroke-opacity="0.62" stroke-linecap="round"/>
<polyline points="583.1,406.6 593.3,415.9 601.8,419.3" stroke="#00a000" stroke-width="3.6" stroke-opacity="0.62" stroke-linecap="round"/>
<polyline points="601.8,419.3 611.1,432.9 620.5,465.2 626.4,482.2 636.6,495.9 647.7,505.2 657,512.9 663.8,511.2" stroke="#ff0000" stroke-width="3.6" stroke-opacity="0.62" stroke-linecap="round"/>
<polyline points="663.8,511.2 670.6,506" stroke="#00a000" stroke-width="3.6" stroke-opacity="0.62" stroke-linecap="round"/>
<polyline points="670.6,506 680.9,499.3 691.1,500.1 701.3,514.6 708.1,548.6 716.6,570.7 729.1,594 741,617.8 754.6,641.6 764.8,665.4 775,699.5 792,726.7" stroke="#ff0000" stroke-width="3.6" stroke-opacity="0.62" stroke-linecap="round"/>
<polyline points="792,726.7 802.2,736.9 812.4,735.2 824.4,706.3 836.3,692.7 848.2,685" stroke="#00a000" stroke-width="3.6" stroke-opacity="0.62" stroke-linecap="round"/>
<polyline points="848.2,685 857.5,677.3 866.9,696" stroke="#ff0000" stroke-width="3.6" stroke-opacity="0.62" stroke-linecap="round"/>
<polyline points="866.9,696 870.3,696 877,690.9 892.4,682.4" stroke="#00a000" stroke-width="3.6" stroke-opacity="0.62" stroke-linecap="round"/>
<polyline points="892.4,682.4 902.6,684.1 911.1,665.4 919.6,666.3" stroke="#ff0000" stroke-width="3.6" stroke-opacity="0.62" stroke-linecap="round"/>
<polyline points="919.6,666.3 929.8,679 938.3,676.5 948.5,663.3 957,659.1" stroke="#00a000" stroke-width="3.6" stroke-opacity="0.62" stroke-linecap="round"/>
<polyline points="957,659.1 974,658.2 982.5,668.4 991,685.4 999.5,705.9 1008,717.8 1019.9,731.4" stroke="#ff0000" stroke-width="3.6" stroke-opacity="0.62" stroke-linecap="round"/>
<polyline points="1019.9,731.4 1031.8,728 1045.4,729.7 1057.3,719.5" stroke="#00a000" stroke-width="3.6" stroke-opacity="0.62" stroke-linecap="round"/>
<polyline points="1057.3,719.5 1062.4,714.4 1076.1,712.7 1084.6,714.4 1093.1,717.8" stroke="#ff0000" stroke-width="3.6" stroke-opacity="0.62" stroke-linecap="round"/>
<polyline points="1093.1,717.8 1103.3,720.3 1110.1,721.2" stroke="#00a000" stroke-width="3.6" stroke-opacity="0.62" stroke-linecap="round"/>
<polyline points="1110.1,721.2 1120.3,717.8" stroke="#ff0000" stroke-width="3.6" stroke-opacity="0.62" stroke-linecap="round"/>
<polyline points="1120.3,717.8 1130.5,718.6 1149.2,717.8 1157.7,709.3 1167,699 1176.4,688.8 1184.9,668.4 1190.9,657.4" stroke="#00a000" stroke-width="3.6" stroke-opacity="0.62" stroke-linecap="round"/>
<polyline points="1190.9,657.4 1199.5,649.7 1213,648.5" stroke="#ff0000" stroke-width="3.6" stroke-opacity="0.62" stroke-linecap="round"/>
</g>
<g shape-rendering="crispEdges" clip-path="url(#plot)">
<path d="M73 448h6v2h-6zM75 446h2v6h-2zM73 490h6v2h-6zM75 488h2v6h-2zM145 302h6v2h-6zM147 300h2v6h-2zM145 318h6v2h-6zM147 316h2v6h-2zM182 257h6v2h-6zM184 255h2v6h-2zM182 292h6v2h-6zM184 290h2v6h-2zM272 400h6v2h-6zM274 398h2v6h-2zM272 407h6v2h-6zM274 405h2v6h-2zM545 393h6v2h-6zM547 391h2v6h-2zM545 428h6v2h-6zM547 426h2v6h-2zM854 701h6v2h-6zM856 699h2v6h-2zM854 722h6v2h-6zM856 720h2v6h-2zM908 712h6v2h-6zM910 710h2v6h-2zM908 730h6v2h-6zM910 728h2v6h-2zM1054 740h6v2h-6zM1056 738h2v6h-2zM1054 776h6v2h-6zM1056 774h2v6h-2zM1090 759h6v2h-6zM1092 757h2v6h-2zM1090 799h6v2h-6zM1092 797h2v6h-2zM1108 696h6v2h-6zM1110 694h2v6h-2zM1117 772h6v2h-6zM1119 770h2v6h-2zM1117 820h6v2h-6zM1119 818h2v6h-2zM1190 548h6v2h-6zM1192 546h2v6h-2zM1190 591h6v2h-6zM1192 589h2v6h-2z" fill="#4fc061"/>
<path d="M73 389h6v2h-6zM75 387h2v6h-2zM73 407h6v2h-6zM75 405h2v6h-2zM145 336h6v2h-6zM147 334h2v6h-2zM182 332h6v2h-6zM184 330h2v6h-2zM272 416h6v2h-6zM274 414h2v6h-2zM272 420h6v2h-6zM274 418h2v6h-2zM545 345h6v2h-6zM547 343h2v6h-2zM545 360h6v2h-6zM547 358h2v6h-2zM854 669h6v2h-6zM856 667h2v6h-2zM854 681h6v2h-6zM856 679h2v6h-2zM908 689h6v2h-6zM910 687h2v6h-2zM1054 695h6v2h-6zM1056 693h2v6h-2zM1090 711h6v2h-6zM1092 709h2v6h-2zM1090 719h6v2h-6zM1092 717h2v6h-2zM1108 713h6v2h-6zM1110 711h2v6h-2zM1117 704h6v2h-6zM1119 702h2v6h-2zM1117 724h6v2h-6zM1119 722h2v6h-2zM1190 647h6v2h-6zM1192 645h2v6h-2zM1190 636h6v2h-6zM1192 634h2v6h-2z" fill="#2962ff"/>
<path d="M145 349h6v2h-6zM147 347h2v6h-2zM182 360h6v2h-6zM184 358h2v6h-2zM272 426h6v2h-6zM274 424h2v6h-2zM545 323h6v2h-6zM547 321h2v6h-2zM854 658h6v2h-6zM856 656h2v6h-2zM908 676h6v2h-6zM910 674h2v6h-2zM1054 667h6v2h-6zM1056 665h2v6h-2zM1090 681h6v2h-6zM1092 679h2v6h-2zM1108 721h6v2h-6zM1110 719h2v6h-2zM1117 674h6v2h-6zM1119 672h2v6h-2zM1190 679h6v2h-6zM1192 677h2v6h-2z" fill="#f7525f"/>
<path d="M73 362h6v2h-6zM75 360h2v6h-2z" fill="#f0826a"/>
</g>
<path d="M248.5 425.5V450.7" stroke="#1fd38a" stroke-width="1.2" fill="none"/>
<circle cx="248.5" cy="425.5" r="1.1" fill="#1fd38a"/><circle cx="248.5" cy="450.7" r="1.1" fill="#1fd38a"/>
<path d="M275.5 431.2V436.6" stroke="#1fd38a" stroke-width="1.2" fill="none"/>
<path d="M148.5 352V355.5" stroke="#1fd38a" stroke-width="1.2" fill="none"/>
<path d="M666.5 556.6V581.7" stroke="#1fd38a" stroke-width="1.2" fill="none"/>
<circle cx="666.5" cy="556.6" r="1.1" fill="#1fd38a"/><circle cx="666.5" cy="581.7" r="1.1" fill="#1fd38a"/>
<path d="M921.5 741.6V766.6" stroke="#1fd38a" stroke-width="1.2" fill="none"/>
<circle cx="921.5" cy="741.6" r="1.1" fill="#1fd38a"/><circle cx="921.5" cy="766.6" r="1.1" fill="#1fd38a"/>
<path d="M1111.5 726.3V731.7" stroke="#1fd38a" stroke-width="1.2" fill="none"/>
<path d="M684.5 399.3V424.4" stroke="#f7525f" stroke-width="1.2" fill="none"/>
<circle cx="684.5" cy="399.3" r="1.1" fill="#f7525f"/><circle cx="684.5" cy="424.4" r="1.1" fill="#f7525f"/>
<path d="M1120.5 630.2V655.7" stroke="#f7525f" stroke-width="1.2" fill="none"/>
<circle cx="1120.5" cy="630.2" r="1.1" fill="#f7525f"/><circle cx="1120.5" cy="655.7" r="1.1" fill="#f7525f"/>
<path d="M548.5 318.5V321" stroke="#f7525f" stroke-width="1.2" fill="none"/>
<path d="M857.5 648.1V653.5" stroke="#f7525f" stroke-width="1.2" fill="none"/>
<path d="M911.5 671.4V673.9" stroke="#f7525f" stroke-width="1.2" fill="none"/>
<path d="M1093.5 684V688" stroke="#f7525f" stroke-width="1.2" fill="none"/>
<g shape-rendering="crispEdges"><rect x="1211" y="631" width="9" height="1" fill="#ff9800"/><rect x="1211" y="705" width="9" height="1" fill="#ff9800"/><rect x="1211.5" y="651.5" width="9" height="2" fill="#6d1f2a" stroke="#c2405a" stroke-width="0.8"/><rect x="1212" y="683" width="9" height="2" fill="#1a7f72"/></g>
<text x="1242.3" y="392.2" font-size="12" fill="#f23645" textLength="76.4" lengthAdjust="spacing">(112,036.91)</text>
<text x="1242.3" y="463.8" font-size="12" fill="#f44336" textLength="76.4" lengthAdjust="spacing">(106,742.05)</text>
<text x="1242.3" y="521.6" font-size="12" fill="#388e3c" textLength="76.4" lengthAdjust="spacing">(102,472.90)</text>
<text x="1242.3" y="579.7" font-size="12" fill="#388e3c" textLength="68.8" lengthAdjust="spacing">(98,176.03)</text>
<text x="1242.3" y="619.8" font-size="12" fill="#777981" textLength="68.8" lengthAdjust="spacing">(95,209.80)</text>
<text x="1242.3" y="651.4" font-size="12" fill="#777981" textLength="68.8" lengthAdjust="spacing">(92,881.18)</text>
<text x="1242.3" y="673.5" font-size="12" fill="#777981" textLength="68.8" lengthAdjust="spacing">(91,245.59)</text>
<text x="1242.3" y="767.3" font-size="12" fill="#f23645" textLength="68.8" lengthAdjust="spacing">(84,315.15)</text>
<text x="1038.2" y="496.9" font-size="12" fill="#8f9199" textLength="96.5" lengthAdjust="spacing">R3 (104,266.31)</text>
<text x="1044.5" y="562.1" font-size="12" fill="#8f9199" textLength="88.8" lengthAdjust="spacing">R2 (99,450.82)</text>
<text x="1044.5" y="642.6" font-size="12" fill="#8f9199" textLength="88.8" lengthAdjust="spacing">R1 (93,502.17)</text>
<text x="1044.5" y="788.2" font-size="12" fill="#8f9199" textLength="88.8" lengthAdjust="spacing">S1 (82,738.03)</text>
<text x="1044.5" y="853.4" font-size="12" fill="#8f9199" textLength="88.8" lengthAdjust="spacing">S2 (77,922.54)</text>
<text x="1044.5" y="933.8" font-size="12" fill="#8f9199" textLength="88.8" lengthAdjust="spacing">S3 (71,973.89)</text>
<text x="1051.4" y="707.7" font-size="12" fill="#8f9199" textLength="80" lengthAdjust="spacing">P (88,686.68)</text>
<g fill="none" shape-rendering="crispEdges">
<line x1="74" x2="1390" y1="411" y2="411" stroke="#f23645" stroke-width="2" stroke-dasharray="2 4"/>
<line x1="74" x2="1390" y1="717" y2="717" stroke="#ff9800" stroke-width="2" stroke-dasharray="2 4"/>
<line x1="74" x2="1390" y1="800" y2="800" stroke="#4caf50" stroke-width="2" stroke-dasharray="2 4"/>
<line x1="74" x2="1390" y1="680.5" y2="680.5" stroke="#ff0000" stroke-width="1" stroke-dasharray="1 2"/>
</g>
<g shape-rendering="crispEdges">
<path d="M76 369V411M85 398V414M94 393V413M103 376V406M112 371V404M121 356V401M130 340V368M139 324V350M148 329V345M157 331V345M166 323V355M175 320V350M185 316V350M194 307V331M203 314V344M212 331V340M221 335V344M230 341V389M239 369V394M248 360V399M257 366V432M266 409V432M275 416V431M285 382V424M294 354V392M303 349V377M312 297V361M321 265V302M330 226V288M339 241V258M348 202V250M357 195V237M366 209V271M375 223V264M384 228V284M394 245V482M403 367V418M412 335V418M421 333V364M430 340V415M439 365V411M448 387V448M457 424V501M466 448V463M475 421V466M484 391V448M493 360V448M503 426V461M512 397V448M521 386V418M530 388V405M539 341V398M548 328V363M557 333V384M566 365V425M575 393V464M584 400V438M593 408V423M603 398V424M612 405V478M621 451V565M630 489V564M639 493V546M648 495V560M657 505V530M666 476V531M675 461V492M684 449V516M693 478V539M702 496V578M712 552V630M721 594V625M730 596V643M739 604V668M748 634V695M757 645V704M766 644V739M775 720V812M784 745V773M793 711V758M802 696V749M812 706V738M821 677V735M830 659V684M839 643V682M848 669V682M857 660V683M866 680V768M875 654V736M884 628V671M893 630V673M902 649V711M911 682V699M921 662V715M930 654V690M939 623V691M948 625V664M957 637V695M966 648V692M975 677V688M984 679V718M993 685V751M1002 710V749M1011 681V749M1020 693V761M1030 694V751M1039 705V715M1048 698V718M1057 678V714M1066 705V732M1075 712V735M1084 706V727M1093 692V731M1102 713V724M1111 711V722M1120 681V730M1130 694V729M1139 697V724M1148 701V721M1157 673V708M1166 676V695M1175 662V678M1184 621V666M1193 626V669M1202 636V678M1211 664V692" stroke="#fff" stroke-width="1" fill="none" transform="translate(0.5,0)"/>
<path d="M91 399h7V413h-7zM100 387h7V400h-7zM109 387h7V395h-7zM118 361h7V395h-7zM127 341h7V362h-7zM136 332h7V342h-7zM145 333h7V335h-7zM154 334h7V343h-7zM172 323h7V342h-7zM182 322h7V328h-7zM191 319h7V328h-7zM245 369h7V388h-7zM282 385h7V419h-7zM291 355h7V386h-7zM300 355h7V361h-7zM309 298h7V361h-7zM318 271h7V299h-7zM327 249h7V272h-7zM336 247h7V250h-7zM345 232h7V248h-7zM354 216h7V233h-7zM372 234h7V261h-7zM418 343h7V347h-7zM472 432h7V453h-7zM481 406h7V433h-7zM490 406h7V437h-7zM509 413h7V448h-7zM518 400h7V414h-7zM527 392h7V402h-7zM536 354h7V394h-7zM545 353h7V360h-7zM554 359h7V376h-7zM590 413h7V421h-7zM600 407h7V415h-7zM645 505h7V533h-7zM663 486h7V520h-7zM672 469h7V487h-7zM799 708h7V729h-7zM809 708h7V722h-7zM818 678h7V722h-7zM827 667h7V679h-7zM836 667h7V674h-7zM845 673h7V675h-7zM872 667h7V736h-7zM881 639h7V669h-7zM890 639h7V658h-7zM927 677h7V680h-7zM936 649h7V678h-7zM945 649h7V659h-7zM954 651h7V659h-7zM1027 711h7V747h-7zM1036 708h7V712h-7zM1045 704h7V709h-7zM1054 705h7V706h-7zM1099 715h7V722h-7zM1108 714h7V716h-7zM1127 707h7V725h-7zM1145 702h7V720h-7zM1154 686h7V703h-7zM1163 677h7V687h-7zM1172 665h7V678h-7zM1181 633h7V666h-7zM1190 633h7V636h-7z" fill="#008000"/>
<path d="M74 404h6V407h-6zM82 406h7V413h-7zM163 341h7V342h-7zM200 319h7V338h-7zM209 337h7V338h-7zM218 337h7V344h-7zM227 343h7V379h-7zM236 378h7V388h-7zM254 369h7V428h-7zM263 418h7V428h-7zM272 418h7V419h-7zM363 216h7V261h-7zM381 234h7V257h-7zM391 256h7V375h-7zM400 374h7V405h-7zM409 345h7V405h-7zM427 343h7V374h-7zM436 372h7V405h-7zM445 404h7V439h-7zM454 439h7V463h-7zM463 452h7V463h-7zM500 436h7V448h-7zM563 375h7V414h-7zM572 413h7V438h-7zM581 420h7V438h-7zM609 407h7V462h-7zM618 461h7V531h-7zM627 497h7V531h-7zM636 497h7V533h-7zM654 505h7V520h-7zM681 469h7V510h-7zM690 509h7V529h-7zM699 528h7V555h-7zM709 555h7V624h-7zM718 610h7V625h-7zM727 610h7V628h-7zM736 627h7V656h-7zM745 645h7V656h-7zM754 645h7V666h-7zM763 665h7V732h-7zM772 732h7V752h-7zM781 751h7V758h-7zM790 728h7V758h-7zM854 674h7V681h-7zM863 680h7V736h-7zM899 657h7V695h-7zM908 694h7V696h-7zM918 680h7V696h-7zM963 651h7V683h-7zM972 682h7V683h-7zM981 682h7V711h-7zM990 710h7V734h-7zM999 714h7V734h-7zM1008 714h7V737h-7zM1017 736h7V747h-7zM1063 705h7V721h-7zM1072 717h7V721h-7zM1081 717h7V724h-7zM1090 721h7V724h-7zM1117 714h7V725h-7zM1136 707h7V720h-7zM1199 636h7V669h-7zM1208 668h7V681h-7z" fill="#ff0000"/>
</g>
<path d="M1194 623C1194.6 621.1 1196.3 615.3 1197.8 611.4C1199.3 607.5 1201 603.2 1203 599.5C1205 595.8 1207.5 592.1 1209.7 589.3C1212 586.5 1214 584 1216.5 582.5C1219 581 1222.2 580 1225 580C1227.8 580 1230.7 580.7 1233.5 582.2C1236.3 583.8 1239.2 586.1 1242 589.3C1244.8 592.5 1247.7 596.7 1250.5 601.2C1253.3 605.7 1256.2 610.8 1259 616.5C1261.8 622.2 1264.8 628.4 1267.6 635.2C1270.4 642 1273.2 649.6 1276 657.3C1278.8 665 1281.8 672.7 1284.6 681.2C1287.4 689.7 1290.2 699 1293 708.4C1295.8 717.8 1299.2 728.8 1301.6 737.3C1304 745.8 1306.2 754.6 1307.5 759.4C1308.8 764.1 1308 758.7 1309.7 765.8C1311.5 772.9 1315 788.2 1318 802C1321 815.8 1324.4 832.1 1327.7 848.4C1331 864.7 1336.3 891.4 1338 900" fill="none" stroke="#ff9800" stroke-width="2" stroke-dasharray="3 3"/>
<path d="M1326.5 892.3L1338.1 900.5L1345.8 889.7" fill="none" stroke="#ff9800" stroke-width="1.6" stroke-dasharray="3 2"/>
<g><circle cx="1211.5" cy="950.3" r="9.6" fill="none" stroke="#ab47bc" stroke-width="1.4"/><path d="M1214.3 944.6l-7.4 6.6h3.9l-2.1 5 7.6-6.9h-4z" fill="#ab47bc"/><circle cx="1218.3" cy="943.9" r="4.2" fill="#000"/><circle cx="1218.3" cy="943.9" r="2.7" fill="#f23645"/></g>
<text x="1400.2" y="45.8" font-size="12" fill="#c8c8cc" textLength="67.7" lengthAdjust="spacing">137,500.00</text>
<text x="1400.2" y="79.6" font-size="12" fill="#c8c8cc" textLength="67.7" lengthAdjust="spacing">135,000.00</text>
<text x="1400.2" y="113.4" font-size="12" fill="#c8c8cc" textLength="67.7" lengthAdjust="spacing">132,500.00</text>
<text x="1400.2" y="147.3" font-size="12" fill="#c8c8cc" textLength="67.7" lengthAdjust="spacing">130,000.00</text>
<text x="1400.2" y="181.1" font-size="12" fill="#c8c8cc" textLength="67.7" lengthAdjust="spacing">127,500.00</text>
<text x="1400.2" y="214.9" font-size="12" fill="#c8c8cc" textLength="67.7" lengthAdjust="spacing">125,000.00</text>
<text x="1400.2" y="248.8" font-size="12" fill="#c8c8cc" textLength="67.7" lengthAdjust="spacing">122,500.00</text>
<text x="1400.2" y="282.6" font-size="12" fill="#c8c8cc" textLength="67.7" lengthAdjust="spacing">120,000.00</text>
<text x="1400.2" y="316.4" font-size="12" fill="#c8c8cc" textLength="67.7" lengthAdjust="spacing">117,500.00</text>
<text x="1400.2" y="350.2" font-size="12" fill="#c8c8cc" textLength="67.7" lengthAdjust="spacing">115,000.00</text>
<text x="1400.2" y="384.1" font-size="12" fill="#c8c8cc" textLength="67.7" lengthAdjust="spacing">112,500.00</text>
<text x="1400.2" y="417.9" font-size="12" fill="#c8c8cc" textLength="67.7" lengthAdjust="spacing">110,000.00</text>
<text x="1400.2" y="451.7" font-size="12" fill="#c8c8cc" textLength="67.7" lengthAdjust="spacing">107,500.00</text>
<text x="1400.2" y="485.5" font-size="12" fill="#c8c8cc" textLength="67.7" lengthAdjust="spacing">105,000.00</text>
<text x="1400.2" y="519.4" font-size="12" fill="#c8c8cc" textLength="67.7" lengthAdjust="spacing">102,500.00</text>
<text x="1400.2" y="553.2" font-size="12" fill="#c8c8cc" textLength="67.7" lengthAdjust="spacing">100,000.00</text>
<text x="1399.6" y="587" font-size="12" fill="#c8c8cc" textLength="60.6" lengthAdjust="spacing">97,500.00</text>
<text x="1399.6" y="620.8" font-size="12" fill="#c8c8cc" textLength="60.6" lengthAdjust="spacing">95,000.00</text>
<text x="1399.6" y="654.7" font-size="12" fill="#c8c8cc" textLength="60.6" lengthAdjust="spacing">92,500.00</text>
<text x="1399.6" y="688.5" font-size="12" fill="#c8c8cc" textLength="60.6" lengthAdjust="spacing">90,000.00</text>
<text x="1399.6" y="722.3" font-size="12" fill="#c8c8cc" textLength="60.6" lengthAdjust="spacing">87,500.00</text>
<text x="1399.6" y="756.1" font-size="12" fill="#c8c8cc" textLength="60.6" lengthAdjust="spacing">85,000.00</text>
<text x="1399.6" y="790" font-size="12" fill="#c8c8cc" textLength="60.6" lengthAdjust="spacing">82,500.00</text>
<text x="1399.6" y="823.8" font-size="12" fill="#c8c8cc" textLength="60.6" lengthAdjust="spacing">80,000.00</text>
<text x="1399.6" y="857.6" font-size="12" fill="#c8c8cc" textLength="60.6" lengthAdjust="spacing">77,500.00</text>
<text x="1399.6" y="891.4" font-size="12" fill="#c8c8cc" textLength="60.6" lengthAdjust="spacing">75,000.00</text>
<text x="1399.6" y="925.3" font-size="12" fill="#c8c8cc" textLength="60.6" lengthAdjust="spacing">72,500.00</text>
<text x="1399.6" y="959.1" font-size="12" fill="#c8c8cc" textLength="60.6" lengthAdjust="spacing">70,000.00</text>
<path d="M1391 672h73a2 2 0 0 1 2 2v27a2 2 0 0 1 -2 2h-73z" fill="#ff0000"/>
<text x="1399.5" y="683.9" font-size="12" fill="#fff" textLength="60.5" lengthAdjust="spacing">90,372.33</text>
<text x="1400.3" y="698.1" font-size="12" fill="#fff" textLength="51" lengthAdjust="spacing">15:56:51</text>
<g shape-rendering="crispEdges"><rect x="11" y="963" width="1528" height="1" fill="#30343f"/><rect x="11" y="1088" width="1528" height="1" fill="#30343f"/></g>
<g fill="none" stroke-width="3" stroke-linejoin="round" stroke-linecap="round">
<polyline points="74.9,1030 84.7,1051.8 93,1043 102.1,1032.2" stroke="#ff5252"/>
<polyline points="102.1,1032.2 111.4,1017.4 120.2,1013.3 129.5,1004.8 139.1,1007.3 147.9,975.9 157.2,983.2 166.5,977.1 175.6,976.4 184.9,985.9 193.7,985.7 202.8,990.2 212.1,988.4 221.4,988.9 230.2,1013.3 239,1024.9 247.8,1012.8" stroke="#4caf50"/>
<polyline points="247.8,1012.8 257.1,1049.3 266.2,1055.6 275.5,1061.2 284.8,1041.8 293.8,1027.9 302.4,1031.2" stroke="#ff5252"/>
<polyline points="302.4,1031.2 312,1017.9 321,1009.6 330.1,1006.6 339.6,1000.3 348.4,997.7 357.5,992.7 366.6,996.5 375.6,989.7 384.9,999 394.2,1014.1 402.6,1022.2 412.1,1012.1 420.7,1016.6" stroke="#4caf50"/>
<polyline points="420.7,1016.6 429.8,1027.4 439.1,1031.7 448.4,1048.1 457.4,1057.6 466.2,1061.2 475.6,1056.1 484.6,1053.6 493.7,1061.2 503.2,1057.6 512,1055.1 520.9,1049.3 529.2,1029.2" stroke="#ff5252"/>
<polyline points="529.2,1029.2 539,1012.3" stroke="#4caf50"/>
<polyline points="539,1012.3 548,1027.4 557.3,1032.2 566.1,1034.7 575.2,1033" stroke="#ff5252"/>
<polyline points="575.2,1033 584.5,1019.1 593.8,1010.8 602.6,1011.6" stroke="#4caf50"/>
<polyline points="602.6,1011.6 611.9,1033 621,1052.6 629.8,1038 639.1,1041.8 648.4,1043.8 657.2,1049.3 666.3,1042.5 675.6,1048.1 684.9,1053.6 694,1054.4 703.3,1052.6 712.1,1057.6 721.2,1058.9 730.2,1062.7 739.3,1066.9 748.3,1056.9 757.4,1051.8 766.4,1069.5 775.5,1068.2 784.3,1077 793.4,1066.9 802.7,1070.7 811.5,1077 821.1,1059.4 829.9,1053.1 838.4,1050.1 848,1037.5 857.3,1044.3 866.4,1051.1 875.2,1026.7" stroke="#ff5252"/>
<polyline points="875.2,1026.7 884.5,1022.4 893.3,1022.2 902.6,1014.9 911.7,1009.8 921,1005.3 930,1011.1 939.1,1009.1 948.2,1007.8 956.7,1015.9" stroke="#4caf50"/>
<polyline points="956.7,1015.9 966.3,1027.9 975.3,1026.7 984.4,1033 993.2,1036.7" stroke="#ff5252"/>
<polyline points="993.2,1036.7 1002.3,1018.6" stroke="#4caf50"/>
<polyline points="1002.3,1018.6 1011.6,1044.3 1020.9,1059.4 1029.9,1041.8 1038.7,1029.2 1047.8,1027.4 1056.9,1033.5 1066.2,1039.3 1075.2,1051.1 1084.3,1050.1 1093.4,1053.1 1102.4,1040 1111.5,1039.3 1120.8,1032.2" stroke="#ff5252"/>
<polyline points="1120.8,1032.2 1129.3,1009.1" stroke="#4caf50"/>
<polyline points="1129.3,1009.1 1138.6,1027.4" stroke="#ff5252"/>
<polyline points="1138.6,1027.4 1148,1004 1157,990.2 1166.1,1002.3 1175.2,997.7 1184.2,986.4 1193.3,987.2 1202.3,999 1211.7,1007.8" stroke="#4caf50"/>
</g>
<g shape-rendering="crispEdges">
<path d="M90 1079h8V1088h-8zM99 1070h8V1088h-8zM117 1061h8V1088h-8zM126 1067h8V1088h-8zM135 1063h8V1088h-8zM162 1066h8V1088h-8zM171 1068h8V1088h-8zM190 1062h8V1088h-8zM208 1078h8V1088h-8zM244 1070h8V1088h-8zM262 1061h8V1088h-8zM281 1076h8V1088h-8zM290 1067h8V1088h-8zM308 1055h8V1088h-8zM317 1057h8V1088h-8zM326 1047h8V1088h-8zM335 1078h8V1088h-8zM344 1065h8V1088h-8zM353 1054h8V1088h-8zM371 1063h8V1088h-8zM408 1052h8V1088h-8zM417 1058h8V1088h-8zM462 1074h8V1088h-8zM471 1067h8V1088h-8zM480 1060h8V1088h-8zM508 1062h8V1088h-8zM517 1065h8V1088h-8zM526 1081h8V1088h-8zM535 1073h8V1088h-8zM580 1062h8V1088h-8zM589 1080h8V1088h-8zM599 1072h8V1088h-8zM626 1049h8V1088h-8zM644 1045h8V1088h-8zM662 1067h8V1088h-8zM671 1061h8V1088h-8zM717 1067h8V1088h-8zM744 1026h8V1088h-8zM789 1051h8V1088h-8zM798 1036h8V1088h-8zM817 1048h8V1088h-8zM826 1060h8V1088h-8zM871 1040h8V1088h-8zM880 1048h8V1088h-8zM917 1069h8V1088h-8zM926 1060h8V1088h-8zM935 1050h8V1088h-8zM953 1051h8V1088h-8zM998 1057h8V1088h-8zM1026 1053h8V1088h-8zM1035 1079h8V1088h-8zM1044 1076h8V1088h-8zM1071 1067h8V1088h-8zM1089 1056h8V1088h-8zM1098 1080h8V1088h-8zM1107 1079h8V1088h-8zM1126 1057h8V1088h-8zM1144 1072h8V1088h-8zM1153 1047h8V1088h-8zM1162 1075h8V1088h-8zM1171 1073h8V1088h-8zM1180 1044h8V1088h-8z" fill="#4caf50" fill-opacity="0.5"/>
<path d="M74 1062h6V1088h-6zM81 1079h8V1088h-8zM108 1068h8V1088h-8zM144 1079h8V1088h-8zM153 1079h8V1088h-8zM181 1062h8V1088h-8zM199 1067h8V1088h-8zM217 1079h8V1088h-8zM226 1057h8V1088h-8zM235 1070h8V1088h-8zM253 1053h8V1088h-8zM271 1079h8V1088h-8zM299 1068h8V1088h-8zM362 1056h8V1088h-8zM380 1061h8V1088h-8zM390 1008h8V1088h-8zM399 1050h8V1088h-8zM426 1043h8V1088h-8zM435 1060h8V1088h-8zM444 1037h8V1088h-8zM453 1034h8V1088h-8zM489 1039h8V1088h-8zM499 1051h8V1088h-8zM544 1068h8V1088h-8zM553 1067h8V1088h-8zM562 1062h8V1088h-8zM571 1052h8V1088h-8zM608 1050h8V1088h-8zM617 1022h8V1088h-8zM635 1054h8V1088h-8zM653 1071h8V1088h-8zM680 1063h8V1088h-8zM689 1063h8V1088h-8zM698 1042h8V1088h-8zM708 1010h8V1088h-8zM726 1056h8V1088h-8zM735 1033h8V1088h-8zM753 1028h8V1088h-8zM762 1017h8V1088h-8zM771 976h8V1088h-8zM780 1061h8V1088h-8zM808 1051h8V1088h-8zM835 1055h8V1088h-8zM844 1077h8V1088h-8zM853 1075h8V1088h-8zM862 1027h8V1088h-8zM889 1063h8V1088h-8zM898 1057h8V1088h-8zM907 1076h8V1088h-8zM944 1053h8V1088h-8zM962 1063h8V1088h-8zM971 1081h8V1088h-8zM980 1070h8V1088h-8zM989 1051h8V1088h-8zM1007 1046h8V1088h-8zM1016 1044h8V1088h-8zM1053 1052h8V1088h-8zM1062 1059h8V1088h-8zM1080 1076h8V1088h-8zM1116 1048h8V1088h-8zM1135 1061h8V1088h-8zM1189 1051h8V1088h-8zM1198 1055h8V1088h-8zM1207 1079h8V1088h-8z" fill="#ff5252" fill-opacity="0.5"/>
<rect x="74" y="1024" width="1137" height="1" fill="#ab47bc"/>
</g>
<text x="39.7" y="1000.9" font-size="12" fill="#c8c8cc" textLength="24.3" lengthAdjust="spacing">40 K</text>
<text x="39.7" y="1045.7" font-size="12" fill="#c8c8cc" textLength="24.3" lengthAdjust="spacing">20 K</text>
<text x="1399.6" y="980.7" font-size="12" fill="#c8c8cc" textLength="25.9" lengthAdjust="spacing">0.50</text>
<text x="1399.6" y="1031" font-size="12" fill="#c8c8cc" textLength="25.9" lengthAdjust="spacing">0.00</text>
<text x="1399.6" y="1081.3" font-size="12" fill="#c8c8cc" textLength="33.8" lengthAdjust="spacing">−0.50</text>
<text x="1487.7" y="995" font-size="12" fill="#c8c8cc" textLength="33.5" lengthAdjust="spacing">40.00</text>
<text x="1487.7" y="1029.2" font-size="12" fill="#c8c8cc" textLength="25.9" lengthAdjust="spacing">0.00</text>
<text x="1487.7" y="1061.9" font-size="12" fill="#c8c8cc" textLength="41" lengthAdjust="spacing">−40.00</text>
<g shape-rendering="crispEdges"><rect x="74" y="1120" width="1316" height="1" fill="#f44336"/><rect x="74" y="1177" width="1316" height="1" fill="#4caf50"/></g>
<line x1="74" x2="1390" y1="1148.5" y2="1148.5" stroke="#50535e" stroke-width="1" stroke-dasharray="6 5" shape-rendering="crispEdges"/>
<g fill="none" stroke-width="1.1" stroke-linejoin="round">
<polyline points="74.2,1187.7 85.5,1186.4 102.6,1184.4 111.9,1183.9 120.7,1180.6 130.3,1176.1 139.6,1171.3 148.4,1167.3 157.2,1165 166.5,1163 175.6,1159.2 184.9,1156 193.7,1152.2 203.3,1149.2 212.6,1147.2 221.4,1145.4 230.2,1145.9 239,1148.7 248.3,1150.9 257.1,1155.5 266.2,1159.2 275,1162.5 284.3,1165 293.6,1167.5 302.7,1169.3 312,1167.5 321.3,1165 330.1,1161.2 339.6,1155.5 348.4,1147.9 357.3,1140.9 366.6,1134.1 375.6,1125.3 384.9,1117.7 394.2,1118.2 394.3,1118.5 402.6,1121 412.1,1121.5 420.7,1124.5 429.8,1129.8 439.1,1137.8 448.4,1146.7 457.4,1155 466.2,1163 475.6,1168.8 484.6,1175.6 493.7,1181.9 502.7,1183.1 512,1181.4 520.9,1181.9 529.9,1182.4 539,1180.1 548,1176.1 557.3,1172.6 566.1,1170.6 575.2,1169.5 584.5,1168.8 593.3,1168.8 602.6,1167.5 611.9,1168 621,1170.1 629.8,1172.3 639.1,1174.8 648.4,1178.1 657.2,1181.4 666.3,1183.1 675.6,1182.6 684.4,1182.6 694,1183.9 703.3,1186.2 712.1,1188.4 721.2,1188.4 730.2,1188.9 739.3,1189.4 748.3,1189.9 757.4,1190.7 766.4,1191.4 775.5,1193.2 784.3,1195.2 793.4,1195 802.7,1194.5 811.5,1193.7 821.1,1191.4 829.9,1189.4 839.2,1187.4 848,1185.7 857.3,1183.9 866.4,1182.6 875.2,1180.1 884.5,1176.1 893.3,1171.3 902.6,1168 911.7,1165.5 921,1162.5 930,1160.5 939.1,1157.5 948.2,1154.7 957.2,1151.2 966.3,1148.4 975.3,1145.9 984.4,1145.4 993.2,1145.9 1002.3,1147.2 1011.6,1147.9 1020.9,1148.7 1029.9,1148.7 1038.7,1148.7 1047.8,1149.2 1056.9,1149.9 1066.2,1150.4 1075.2,1149.7 1084.3,1148.7 1093.4,1147.4 1102.4,1145.4 1111.5,1143.4 1120.8,1140.9 1129.8,1137.8 1138.9,1135.8 1148,1132.8 1157,1129 1156.8,1128.5 1166.1,1124.8 1175.2,1119.7 1184.2,1113.2 1193.3,1107.6 1202.3,1103.4 1211.7,1100.6" stroke="#3da542"/>
<polyline points="74.2,1184.9 85.5,1186.4 102.6,1187.2 111.9,1187.2 120.7,1186.4 130.3,1185.2 139.6,1183.6 148.4,1181.9 157.2,1180.1 166.5,1178.1 175.6,1175.1 184.9,1172.6 193.7,1169.8 203.3,1166.8 212.6,1163.5 221.4,1160.5 230.2,1158 239,1155.5 248.3,1153.7 257.1,1152.9 266.2,1152.4 275,1152.4 284.3,1152.9 293.6,1153.7 302.7,1156 312,1157.5 321.3,1159.2 330.1,1160 339.6,1160.5 348.4,1160.5 357.3,1159.7 366.6,1158 375.6,1155 384.9,1151.2 394.2,1147.4 390,1149.2 402.6,1142.9 412.1,1138.6 420.7,1135.3 429.8,1132.8 439.1,1131 448.4,1130.3 457.4,1131 466.2,1132.8 475.6,1135.8 484.6,1140.4 493.7,1146.1 502.7,1152.4 512,1158 520.9,1163 529.9,1167.3 539,1171.1 548,1173.6 557.3,1175.6 566.1,1176.8 575.2,1177.4 584.5,1177.4 593.3,1176.3 602.6,1175.1 611.9,1173.8 621,1172.6 629.8,1171.8 639.1,1171.3 648.4,1171.3 657.2,1171.8 666.3,1172.6 675.6,1173.6 684.4,1174.8 694,1176.1 703.3,1177.6 712.1,1179.4 721.2,1180.6 730.2,1182.4 739.3,1183.9 748.3,1185.2 757.4,1186.4 766.4,1187.4 775.5,1188.2 784.3,1189.4 793.4,1190.7 802.7,1191.4 811.5,1191.9 821.1,1192.4 829.9,1192.4 839.2,1191.9 848,1191.4 857.3,1190.7 866.4,1189.9 875.2,1188.7 884.5,1186.9 893.3,1184.9 902.6,1182.6 911.7,1180.1 921,1177.6 930,1174.8 939.1,1171.8 948.2,1169.3 957.2,1166.3 966.3,1163.5 975.3,1160.5 984.4,1158 993.2,1156 1002.3,1153.7 1011.6,1152.2 1020.9,1150.9 1029.9,1149.9 1038.7,1149.2 1047.8,1148.7 1056.9,1147.9 1066.2,1147.9 1075.2,1147.9 1084.3,1148.4 1093.4,1148.4 1102.4,1148.4 1111.5,1147.9 1120.8,1147.4 1129.8,1146.7 1138.9,1145.4 1148,1144.1 1157,1142.9 1156.8,1142.9 1166.1,1140.9 1175.2,1138.3 1184.2,1134.8 1193.3,1131.6 1202.3,1127.8 1211.7,1124" stroke="#f0402f"/>
<polyline points="74.2,1137.3 84.2,1138.6 93,1126.5 102.6,1114.7 111.9,1106.9 120.7,1104.4 130.3,1104.4 139.6,1100.6 148.4,1101.4 157.2,1105.6 166.5,1110.2 175.6,1109.4 184.9,1108.2 193.7,1103.1 203.3,1112.2 211.3,1120.2 221.4,1139.1 230.2,1160.5 239,1180.6 248.3,1186.9 257.1,1186.9 266.2,1183.9 275,1188.9 284.3,1175.6 293.6,1156.7 302.7,1137.8 312,1119.5 321.3,1109.7 330.1,1100.6 348.4,1100.6 357.3,1101.4 366.6,1110.2 375.6,1117 384.9,1129 394.2,1147.9 394.3,1151.7 402.6,1173.1 412.1,1184.4 420.7,1179.4 429.8,1174.3 439.1,1180.6 448.4,1188.2 457.4,1193.7 466.2,1194.5 475.6,1189.4 484.6,1180.1 493.7,1175.6 502.7,1174.3 512,1159.2 520.9,1134.1 529.9,1108.9 539,1102.1 548,1102.1 557.3,1107.6 566.1,1124 575.2,1142.9 584.5,1153.4 593.3,1156.2 602.6,1150.9 611.9,1165.5 621,1178.6 629.8,1187.4 639.1,1183.9 648.4,1173.8 657.2,1173.8 666.3,1160.5 675.6,1147.4 684.4,1137.3 694,1139.9 703.3,1156.7 712.1,1173.1 721.2,1183.1 730.2,1188.7 739.3,1189.4 748.3,1189.4 757.4,1190.7 766.4,1191.2 775.5,1195 775,1195 784.3,1195.7 793.4,1186.9 802.7,1169.3 811.5,1152.9 821.1,1129.8 829.9,1115.2 839.2,1101.9 848,1103.1 857.3,1106.4 866.4,1119 875.2,1117.7 884.5,1115.2 893.3,1103.4 902.6,1111.4 911.7,1122.7 921,1128.3 930,1127 939.1,1115.7 948.2,1110.7 957.2,1103.9 966.3,1113.2 975.3,1120.2 984.4,1137.8 993.2,1159.2 1002.3,1171.8 1011.6,1182.6 1020.9,1182.6 1029.9,1174.3 1038.7,1156.7 1047.8,1135.8 1056.9,1132.8 1066.2,1137.8 1075.2,1143.4 1084.3,1145.9 1093.4,1139.9 1102.4,1128.3 1111.5,1118.2 1120.8,1119 1129.8,1115.7 1138.9,1121.5 1148,1109.7 1157,1109.4 1156.8,1109.4 1166.1,1100.6 1175.2,1100.6 1184.2,1100.6 1193.3,1101.4 1202.3,1119 1211.7,1135.3" stroke="#3da542"/>
<polyline points="74.2,1144.1 84.2,1138.6 93,1134.1 102.6,1126.5 111.9,1115.7 120.7,1109.4 130.3,1105.6 139.6,1103.1 148.4,1102.1 157.2,1102.6 166.5,1105.6 175.6,1108.4 184.9,1109.4 193.7,1107.1 203.3,1108.2 212.6,1113.2 221.4,1125.3 230.2,1140.4 239,1160.5 248.3,1176.8 257.1,1184.9 266.2,1186.2 275,1186.9 284.3,1183.1 293.6,1173.6 302.7,1156.7 312,1137.8 321.3,1122.7 330.1,1111.4 339.6,1104.6 348.4,1100.9 357.3,1100.6 366.6,1103.9 375.6,1109.4 384.9,1119 394.2,1130.3 394.3,1130.3 402.6,1147.9 412.1,1168 420.7,1178.6 429.8,1179.4 439.1,1178.6 448.4,1181.9 457.4,1188.2 466.2,1192.7 475.6,1192.7 484.6,1188.2 493.7,1181.9 502.7,1176.8 512,1169.3 520.9,1155 529.9,1134.1 539,1114.7 548,1103.9 557.3,1103.9 566.1,1111.4 575.2,1125.3 584.5,1139.9 593.3,1150.4 602.6,1153.4 611.9,1158 621,1165.5 629.8,1176.8 639.1,1183.6 648.4,1181.4 657.2,1176.8 666.3,1169.3 675.6,1160.5 684.4,1149.2 694,1141.6 703.3,1144.1 712.1,1156 721.2,1169.3 730.2,1181.4 739.3,1186.9 748.3,1188.7 757.4,1190.2 766.4,1190.7 775.5,1193.2 775,1191.2 784.3,1194 793.4,1191.9 802.7,1183.9 811.5,1170.6 821.1,1150.4 829.9,1132.1 839.2,1115.7 848,1106.9 857.3,1103.9 866.4,1109.4 875.2,1114.4 884.5,1117.2 893.3,1112.2 902.6,1110.2 911.7,1113.4 921,1120.7 930,1126 939.1,1123.2 948.2,1117.2 957.2,1110.2 966.3,1109.4 975.3,1112.7 984.4,1124 993.2,1139.1 1002.3,1156.2 1011.6,1171.3 1020.9,1178.6 1029.9,1180.1 1038.7,1171.3 1047.8,1155.5 1056.9,1142.4 1066.2,1135.8 1075.2,1137.8 1084.3,1142.4 1093.4,1142.9 1102.4,1137.8 1111.5,1128.3 1120.8,1121.5 1129.8,1117.7 1138.9,1118.5 1148,1115.7 1157,1113.4 1156.8,1113.4 1166.1,1107.1 1175.2,1103.9 1184.2,1100.9 1193.3,1101.4 1202.3,1106.4 1211.7,1117.7" stroke="#f0402f"/>
</g>
<text x="30.6" y="1124" font-size="12" fill="#c8c8cc" textLength="33.5" lengthAdjust="spacing">80.00</text>
<text x="30.6" y="1162.3" font-size="12" fill="#c8c8cc" textLength="33.5" lengthAdjust="spacing">40.00</text>
<text x="38.4" y="1200" font-size="12" fill="#c8c8cc" textLength="25.9" lengthAdjust="spacing">0.00</text>
<text x="1399.6" y="1104.9" font-size="12" fill="#c8c8cc" textLength="33.5" lengthAdjust="spacing">75.00</text>
<text x="1399.6" y="1136.6" font-size="12" fill="#c8c8cc" textLength="33.5" lengthAdjust="spacing">50.00</text>
<text x="1399.6" y="1169.8" font-size="12" fill="#c8c8cc" textLength="33.5" lengthAdjust="spacing">25.00</text>
<text x="1399.6" y="1201.8" font-size="12" fill="#c8c8cc" textLength="25.9" lengthAdjust="spacing">0.00</text>
<text x="301.9" y="1225.2" font-size="12" fill="#c8c8cc" textLength="20.1" lengthAdjust="spacing">Oct</text>
<text x="582.5" y="1225.2" font-size="12" fill="#c8c8cc" textLength="21.4" lengthAdjust="spacing">Nov</text>
<text x="855.6" y="1225.2" font-size="12" fill="#c8c8cc" textLength="21.4" lengthAdjust="spacing">Dec</text>
<text x="1131.9" y="1225.2" font-size="12" fill="#c8c8cc" textLength="31.9" lengthAdjust="spacing" font-weight="bold">2026</text>
<circle cx="42.2" cy="1220.4" r="9.5" fill="#1c1c1c"/>
<text x="42.2" y="1224.4" font-size="10.5" fill="#8a8a8a" text-anchor="middle">Z</text>
<circle cx="1434.3" cy="1220.4" r="9.5" fill="#1c1c1c"/>
<text x="1434.3" y="1224.4" font-size="10.5" fill="#8a8a8a" text-anchor="middle">A</text>
<circle cx="1509.3" cy="1220.4" r="9.5" fill="#1c1c1c"/>
<text x="1509.3" y="1224.4" font-size="10.5" fill="#8a8a8a" text-anchor="middle">B</text>
<g fill="#d6d6d6"><path d="M12 1256h12.2v15h-6.1v-8.6H12z"/><circle cx="28.7" cy="1259" r="3"/><path d="M34.6 1256h7.3l-6.2 15h-7.2z"/>
<text x="49.2" y="1271" font-size="20.5" font-weight="bold" textLength="120.2" lengthAdjust="spacingAndGlyphs" fill="#d6d6d6">TradingView</text></g>
</svg>
</body></html>
